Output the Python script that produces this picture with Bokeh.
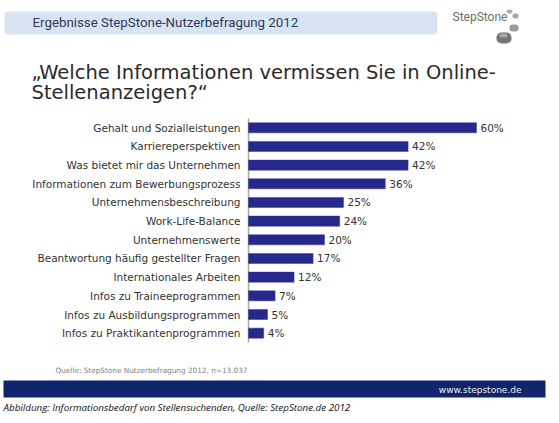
from bokeh.plotting import figure
from bokeh.models import Range1d, Label, BoxAnnotation, ColumnDataSource
from bokeh.core.properties import value
from bokeh.embed import file_html
from bokeh.resources import INLINE

categories = [
    "Gehalt und Sozialleistungen",
    "Karriereperspektiven",
    "Was bietet mir das Unternehmen",
    "Informationen zum Bewerbungsprozess",
    "Unternehmensbeschreibung",
    "Work-Life-Balance",
    "Unternehmenswerte",
    "Beantwortung häufig gestellter Fragen",
    "Internationales Arbeiten",
    "Infos zu Traineeprogrammen",
    "Infos zu Ausbildungsprogrammen",
    "Infos zu Praktikantenprogrammen",
]
values = [60, 42, 42, 36, 25, 24, 20, 17, 12, 7, 5, 4]
value_labels = [f"{v}%" for v in values]

header = "Ergebnisse StepStone-Nutzerbefragung 2012"
question1 = "\u201eWelche Informationen vermissen Sie in Online-"
question2 = "Stellenanzeigen?\u201c"
source_note = "Quelle:  StepStone Nutzerbefragung  2012, n=13.037"
website = "www.stepstone.de"
caption = "Abbildung: Informationsbedarf von Stellensuchenden, Quelle: StepStone.de 2012"
brand = "StepStone"

W, H = 559, 423
# layout: pixel position of value 0, px per percent, first bar centre, px per row
X0, XS = 248, 3.8
Y0, YS = 127.3, 18.67

n = len(categories)
idx = list(range(n))
src = ColumnDataSource(dict(idx=idx, cat=categories, val=values, lab=value_labels,
                            zero=[0] * n))

p = figure(width=W, height=H, output_backend="svg", toolbar_location=None,
           x_axis_type=None, y_axis_type=None,
           x_range=Range1d(-X0 / XS, (W - X0) / XS),
           y_range=Range1d((H - Y0) / YS, -Y0 / YS),
           min_border=0)
p.background_fill_color = "white"
p.border_fill_color = "white"
p.outline_line_color = None
p.grid.visible = False


def box(l, r, t, b, color, radius=0, alpha=1.0):
    p.add_layout(BoxAnnotation(left=l, right=r, top=H - t, bottom=H - b,
                               left_units="screen", right_units="screen",
                               top_units="screen", bottom_units="screen",
                               fill_color=color, fill_alpha=alpha, line_color=None,
                               border_radius=radius, level="underlay"))


# background bands
box(4, 437, 11, 34, "#d9e4f2", 4)
box(3, 545, 380, 397, "#10256b")

# logo stones
box(496, 511, 32, 43, "#757575", 5)
box(499, 507, 33, 37, "#a8a8a8", 2)
box(509, 518, 24, 31, "#9a9a9a", 3)
box(506, 512, 9, 13, "#b0b0b0", 2)
box(512, 518, 13, 18, "#a8a8a8", 2)

# axis line along value 0, spanning all rows
p.segment(x0=[0], x1=[0], y0=[-0.5], y1=[n - 0.5], line_color="#a8a8a8", line_width=1.5)

p.hbar(y="idx", right="val", left="zero", height=0.54, source=src,
       fill_color="#27288c", line_color="#3a3c9a", line_width=0.5)
p.text(x="val", y="idx", text="lab", source=src, x_offset=4,
       text_baseline="middle", text_align="left",
       text_font=value("DejaVu Sans"), text_font_size="10.5px", text_color="#333333")
p.text(x="zero", y="idx", text="cat", source=src, x_offset=-8,
       text_baseline="middle", text_align="right",
       text_font=value("DejaVu Sans"), text_font_size="10.5px", text_color="#333333")


def lab(text, cx, cy, font, size, color, align="left", style="normal"):
    p.add_layout(Label(x=cx, y=H - cy, x_units="screen", y_units="screen",
                       text=text, text_font=font, text_font_size=size,
                       text_color=color, text_align=align, text_baseline="middle",
                       text_font_style=style))


lab(header, 32, 22, "Roboto", "13.3px", "#2d3a5a")
lab(brand, 452, 16, "Roboto", "12px", "#6d6d6d")
lab(question1, 31, 72, "DejaVu Sans", "19.5px", "#2a2a2a")
lab(question2, 31, 92, "DejaVu Sans", "19.5px", "#2a2a2a")
lab(source_note, 55, 370, "DejaVu Sans", "7.3px", "#7f7f7f")
lab(website, 521, 389, "DejaVu Sans", "9px", "#eeeeee", align="right")
lab(caption, 3, 407, "Open Sans", "9.8px", "#111111", style="italic")

open("out.html", "w").write(file_html(p, INLINE))
